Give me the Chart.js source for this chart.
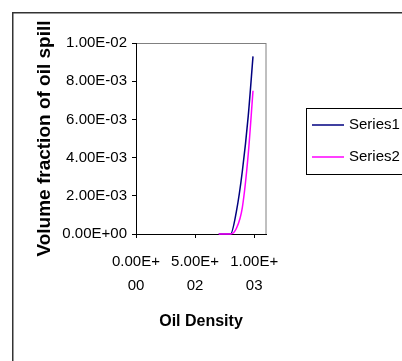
<!DOCTYPE html>
<html><head><meta charset="utf-8">
<script src="https://cdn.jsdelivr.net/npm/chart.js@4/dist/chart.umd.min.js"></script>
<style>html,body{margin:0;padding:0;background:#fff;overflow:hidden}
#wrap{position:relative;width:402px;height:361px}
canvas{display:block}
</style></head><body><div id="wrap"><canvas id="c" width="402" height="361"></canvas></div>
<script>
const density = [700, 750, 800, 850, 900, 950, 990];
const series1 = [0, 0, 0, 0.0012, 0.0033, 0.0062, 0.0093];
const series2 = [0, 0, 0, 0.0003, 0.0014, 0.0042, 0.0075];
const seriesNames = ['Series1', 'Series2'];
const seriesColors = ['#000080', '#FF00FF'];
const xTicks = [0, 500, 1000];
const yTicks = [0, 0.002, 0.004, 0.006, 0.008, 0.01];
const xTitle = 'Oil Density';
const yTitle = 'Volume fraction of oil spill';

function sci(v) {
  if (Math.abs(v) < 1e-12) return '0.00E+00';
  let e = Math.floor(Math.log10(Math.abs(v)) + 1e-9);
  let m = v / Math.pow(10, e);
  if (Math.round(m * 100) / 100 >= 10) { m /= 10; e += 1; }
  const sign = e < 0 ? '-' : '+';
  return m.toFixed(2) + 'E' + sign + String(Math.abs(e)).padStart(2, '0');
}

const FONT = 'Liberation Sans';

const frame = {
  id: 'frame',
  beforeDraw(chart) {
    const {ctx, chartArea: a} = chart;
    ctx.save();
    ctx.strokeStyle = '#808080';
    ctx.lineWidth = 1;
    ctx.strokeRect(Math.round(a.left) + 0.5, Math.round(a.top) + 0.5, Math.round(a.right - a.left) - 0.5, Math.round(a.bottom - a.top));
    ctx.restore();
  },
  afterDraw(chart) {
    const ctx = chart.ctx;
    ctx.save();
    ctx.strokeStyle = '#333';
    ctx.lineWidth = 1.5;
    ctx.strokeRect(12.75, 12.75, 600, 600);
    ctx.strokeStyle = '#000';
    ctx.lineWidth = 1;
    ctx.strokeRect(306.5, 108.5, 200, 66);
    chart.data.datasets.forEach((ds, i) => {
      const y = 125 + i * 32;
      ctx.strokeStyle = ds.borderColor;
      ctx.lineWidth = 1.5;
      ctx.beginPath(); ctx.moveTo(312, y); ctx.lineTo(344, y); ctx.stroke();
      ctx.fillStyle = '#000';
      ctx.font = '15px "' + FONT + '"';
      ctx.textBaseline = 'middle';
      ctx.textAlign = 'left';
      ctx.fillText(ds.label, 349, y);
    });
    ctx.restore();
  }
};

const mk = (ys, i) => ({
  label: seriesNames[i],
  data: density.map((x, k) => ({x: x, y: ys[k]})),
  borderColor: seriesColors[i],
  backgroundColor: seriesColors[i],
  showLine: true,
  pointRadius: 0,
  borderWidth: 1.5,
  cubicInterpolationMode: 'monotone',
  fill: false,
  clip: 3,
  order: 1 - i
});

new Chart(document.getElementById('c'), {
  type: 'scatter',
  data: { datasets: [mk(series1, 0), mk(series2, 1)] },
  options: {
    responsive: false,
    animation: false,
    devicePixelRatio: 1,
    layout: { padding: { left: 0, right: 136, top: 43, bottom: 0 } },
    plugins: { legend: { display: false }, tooltip: { enabled: false } },
    scales: {
      x: {
        type: 'linear', min: 0, max: 1100,
        afterBuildTicks: s => { s.ticks = xTicks.map(v => ({value: v})); },
        afterFit: s => { s.height = 127; },
        grid: { drawOnChartArea: false, drawTicks: true, tickLength: 4, color: '#000' },
        border: { color: '#000', width: 1 },
        ticks: {
          padding: 12, maxRotation: 0, autoSkip: false, color: '#000',
          font: { family: FONT, size: 15, lineHeight: 1.6 },
          callback: v => { const s = sci(v); const i = s.indexOf('E') + 2; return [s.slice(0, i), s.slice(i)]; }
        },
        title: { display: true, text: xTitle, color: '#000',
          font: { family: FONT, size: 16, weight: 'bold' }, padding: { top: 0, bottom: 30 } }
      },
      y: {
        type: 'linear', min: 0, max: 0.01,
        afterBuildTicks: s => { s.ticks = yTicks.map(v => ({value: v})); },
        afterFit: s => { s.width = 136; },
        grid: { drawOnChartArea: false, drawTicks: true, tickLength: 4, color: '#000' },
        border: { color: '#000', width: 1 },
        ticks: { padding: 5, color: '#000', autoSkip: false,
          font: { family: FONT, size: 15 }, callback: v => sci(v) },
        title: { display: true, text: yTitle, color: '#000',
          font: { family: FONT, size: 19, weight: 'bold' }, padding: { top: 33, bottom: 0 } }
      }
    }
  },
  plugins: [frame]
});
</script></body></html>
